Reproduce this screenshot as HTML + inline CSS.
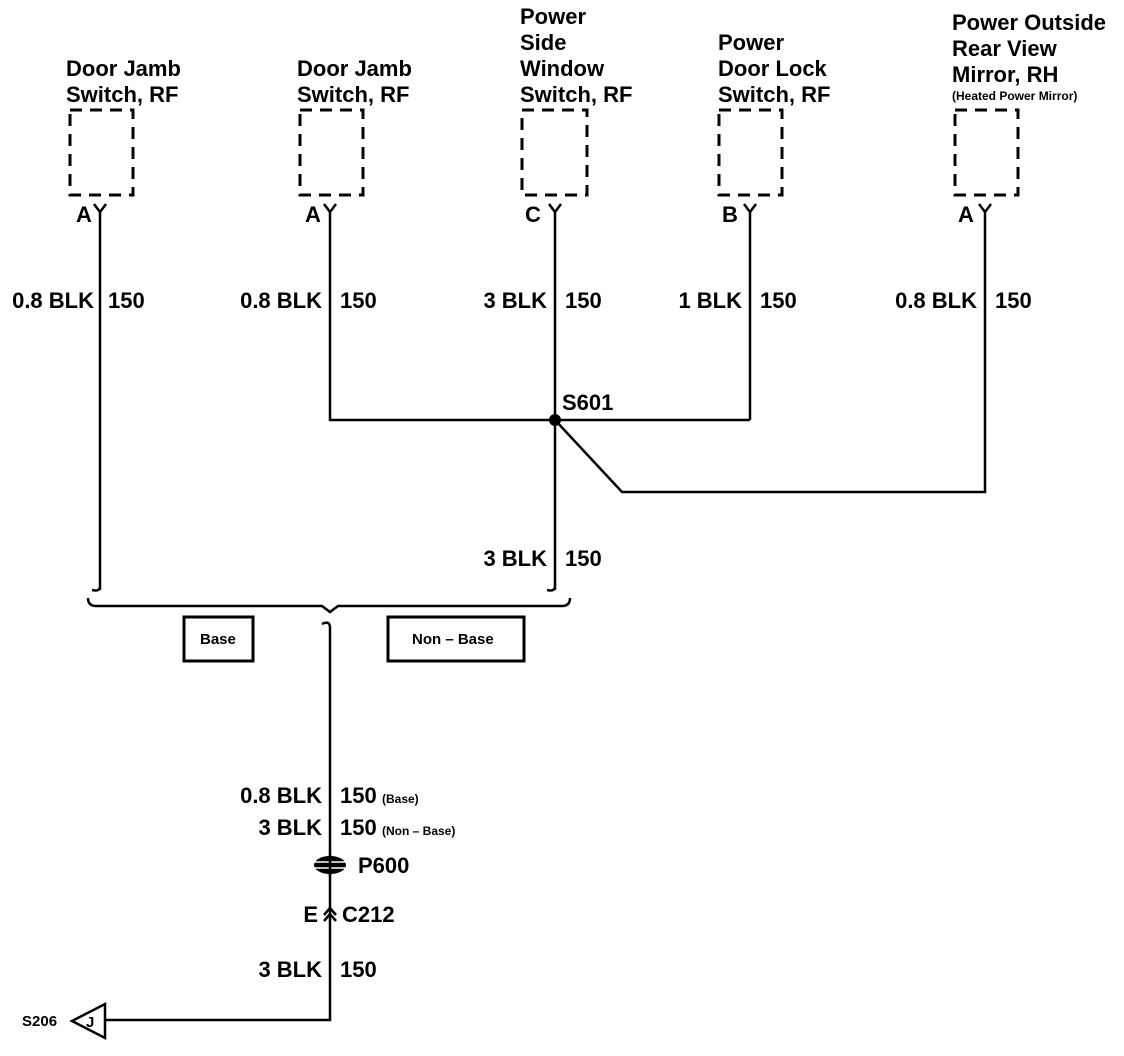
<!DOCTYPE html>
<html><head><style>
html,body{margin:0;padding:0;background:#fff;}
svg{display:block;}
text{font-family:"Liberation Sans",Arial,sans-serif;fill:#000;font-size:22px;font-weight:bold;}
.s{font-size:15px;}
.t{font-size:12px;}
</style></head><body>
<svg width="1124" height="1056" viewBox="0 0 1124 1056" xmlns="http://www.w3.org/2000/svg">
<g stroke="#000" fill="none" stroke-width="3" stroke-dasharray="12,8">
<rect x="70" y="110" width="63" height="85"/>
<rect x="300" y="110" width="63" height="85"/>
<rect x="522" y="110" width="65" height="85"/>
<rect x="719" y="110" width="63" height="85"/>
<rect x="955" y="110" width="63" height="85"/>
</g>
<g fill="#000">
<text x="66" y="76">Door Jamb</text><text x="66" y="102">Switch, RF</text>
<text x="297" y="76">Door Jamb</text><text x="297" y="102">Switch, RF</text>
<text x="520" y="24">Power</text><text x="520" y="50">Side</text><text x="520" y="76">Window</text><text x="520" y="102">Switch, RF</text>
<text x="718" y="50">Power</text><text x="718" y="76">Door Lock</text><text x="718" y="102">Switch, RF</text>
<text x="952" y="30">Power Outside</text><text x="952" y="56">Rear View</text><text x="952" y="82">Mirror, RH</text>
<text x="952" y="100" class="t">(Heated Power Mirror)</text>
<text x="76" y="222">A</text><text x="305" y="222">A</text><text x="525" y="222">C</text><text x="722" y="222">B</text><text x="958" y="222">A</text>
</g>
<g stroke="#000" stroke-width="2.5" fill="none">
<path d="M94,204 L100,212 L106,204 M100,212 V590 M92,590 Q100,592 100,586"/>
<path d="M324,204 L330,212 L336,204 M330,212 V420 H750"/>
<path d="M549,204 L555,212 L561,204 M555,212 V590 M547,590 Q555,592 555,586"/>
<path d="M744,204 L750,212 L756,204 M750,212 V420"/>
<path d="M979,204 L985,212 L991,204 M985,212 V492 H622 L555,420"/>
<path d="M88,598 Q88,606 96,606 H322 L330,612 L338,606 H562 Q570,606 570,598"/>
<path d="M322,624 Q330,620 330,628 V1020 H105"/>
<path d="M105,1004 V1038 L72,1021 Z"/>
<path d="M324,915 L330,908 L336,915 M324,921 L330,914 L336,921"/>
</g>
<circle cx="555" cy="420" r="6" fill="#000"/>
<rect x="184" y="617" width="69" height="44" fill="none" stroke="#000" stroke-width="3"/>
<rect x="388" y="617" width="136" height="44" fill="none" stroke="#000" stroke-width="3"/>
<text x="200" y="644" class="s">Base</text>
<text x="412" y="644" class="s">Non – Base</text>
<g>
<text x="94" y="308" text-anchor="end">0.8 BLK</text><text x="108" y="308">150</text>
<text x="322" y="308" text-anchor="end">0.8 BLK</text><text x="340" y="308">150</text>
<text x="547" y="308" text-anchor="end">3 BLK</text><text x="565" y="308">150</text>
<text x="742" y="308" text-anchor="end">1 BLK</text><text x="760" y="308">150</text>
<text x="977" y="308" text-anchor="end">0.8 BLK</text><text x="995" y="308">150</text>
<text x="562" y="410">S601</text>
<text x="547" y="566" text-anchor="end">3 BLK</text><text x="565" y="566">150</text>
<text x="322" y="803" text-anchor="end">0.8 BLK</text><text x="340" y="803">150</text><text x="382" y="803" class="t">(Base)</text>
<text x="322" y="835" text-anchor="end">3 BLK</text><text x="340" y="835">150</text><text x="382" y="835" class="t">(Non – Base)</text>
<text x="358" y="873">P600</text>
<text x="318" y="922" text-anchor="end">E</text><text x="342" y="922">C212</text>
<text x="322" y="977" text-anchor="end">3 BLK</text><text x="340" y="977">150</text>
<text x="22" y="1026" class="s">S206</text>
<text x="86" y="1027" class="s">J</text>
</g>
<g fill="#000">
<ellipse cx="330" cy="865" rx="16" ry="9"/>
</g>
<g stroke="#fff" stroke-width="1.5"><line x1="314" y1="862" x2="346" y2="862"/><line x1="314" y1="868" x2="346" y2="868"/></g>
<line x1="330" y1="855" x2="330" y2="876" stroke="#000" stroke-width="2.5"/>
</svg>
</body></html>
